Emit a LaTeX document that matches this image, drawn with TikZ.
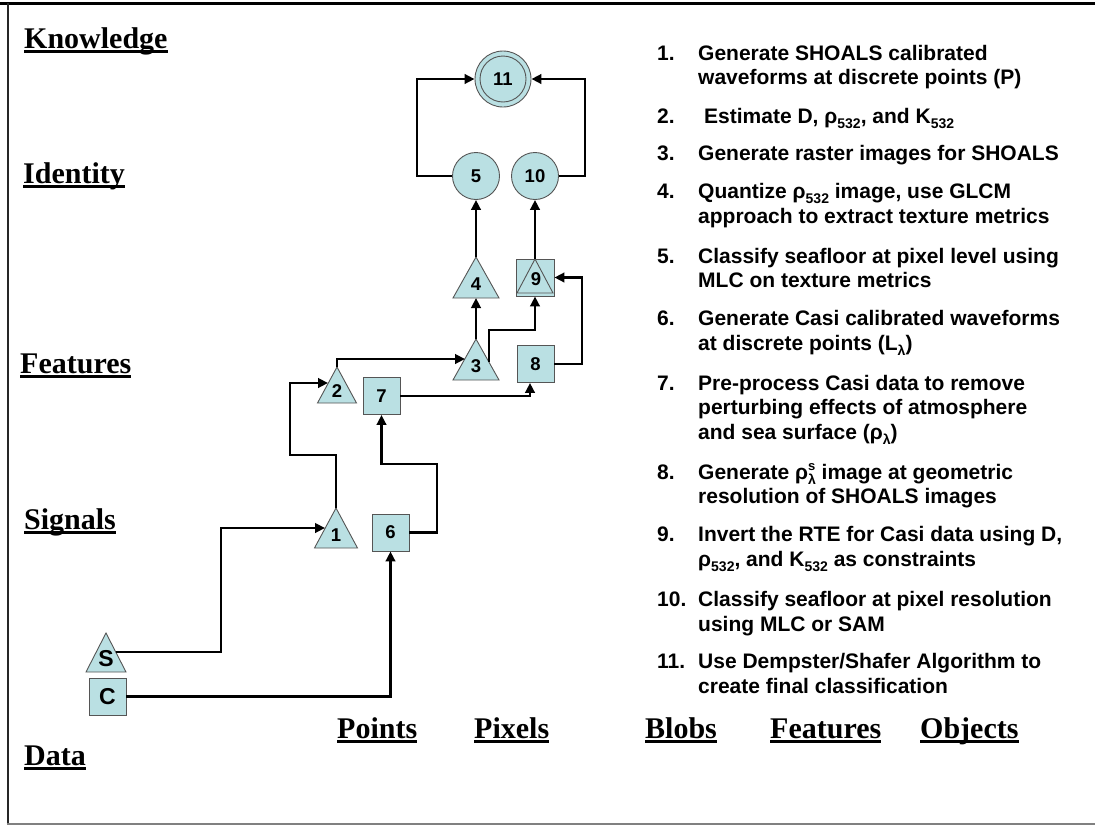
\documentclass[tikz,border=0pt]{standalone}
\usepackage{fontspec}
\setmainfont{Liberation Serif}
\newfontfamily\arialf{Liberation Sans}
\usetikzlibrary{arrows.meta}
\definecolor{nodefill}{RGB}{186,224,227}
\definecolor{nodeline}{RGB}{85,85,85}
\newcommand\dn[1]{\raisebox{-0.28em}{\fontsize{14}{14}\selectfont #1}}
\newcommand\upr[1]{\raisebox{0.42em}{\fontsize{13}{13}\selectfont #1}}
\newcommand\ulab[1]{\setbox0\hbox{#1}\rlap{\raisebox{-5pt}{\rule{\wd0}{2.6pt}}}\box0}
\newcommand\mytri[7][]{%
  \coordinate (#2a) at (#3,#4);
  \coordinate (#2b) at (#3,#5);
  \draw[tri] (#3,#4) -- ({#3+#6},#5) -- ({#3-#6},#5) -- cycle;
  \node[tlab,#1] (#2) at (#3,{(#4+2*#5)/3}) {#7};
}
\begin{document}
\begin{tikzpicture}[x=1pt,y=-1pt,
  lab/.style={anchor=base west,inner sep=0pt,font=\fontsize{30}{30}\selectfont\bfseries},
  item/.style={anchor=base west,inner sep=0pt,font=\arialf\bfseries\fontsize{21}{21}\selectfont},
  tlab/.style={inner sep=0pt,font=\arialf\bfseries\fontsize{18.5}{18.5}\selectfont},
  biglab/.style={font=\arialf\bfseries\fontsize{23}{23}\selectfont},
  sq/.style={draw=nodeline,fill=nodefill,line width=0.9pt,minimum size=37pt,inner sep=0pt,font=\arialf\bfseries\fontsize{18.5}{18.5}\selectfont},
  circ/.style={circle,draw=nodeline,fill=nodefill,line width=0.9pt,minimum size=47pt,inner sep=0pt,font=\arialf\bfseries\fontsize{18.5}{18.5}\selectfont},
  tri/.style={draw=nodeline,fill=nodefill,line width=0.9pt,line join=miter},
  wire/.style={line width=2.6pt,line join=miter},
  conn/.style={wire,-{Triangle[length=10pt,width=9.5pt]}}
]
\useasboundingbox (0,0) rectangle (1095,825);
% frame
\draw[line width=2.6pt] (0,3.5) -- (1095,3.5);
\draw[line width=2pt,black!85] (7.5,3) -- (7.5,824);
\draw[line width=1.6pt,gray] (6.5,823.8) -- (1095,823.8);

% left labels
\node[lab] (lKn) at (24,48) {\ulab{Knowledge}};
\node[lab] (lId) at (23,183) {\ulab{Identity}};
\node[lab] (lFe) at (20,373) {\ulab{Features}};
\node[lab] (lSi) at (24,529) {\ulab{Signals}};
\node[lab] (lDa) at (24,765) {\ulab{Data}};
% bottom labels
\node[lab] (bPo) at (337,738) {\ulab{Points}};
\node[lab] (bPi) at (474,738) {\ulab{Pixels}};
\node[lab] (bBl) at (645,738) {\ulab{Blobs}};
\node[lab] (bFe) at (770,738) {\ulab{Features}};
\node[lab] (bOb) at (920,738) {\ulab{Objects}};

% list
\node[item] (k1) at (657,60) {1.};
\node[item] (t1a) at (698,60) {Generate SHOALS calibrated};
\node[item] (t1b) at (698,84) {waveforms at discrete points (P)};
\node[item] (k2) at (657,123) {2.};
\node[item] (t2a) at (704,123) {Estimate D, ρ\dn{532}, and K\dn{532}};
\node[item] (k3) at (657,160) {3.};
\node[item] (t3a) at (698,160) {Generate raster images for SHOALS};
\node[item] (k4) at (657,198) {4.};
\node[item] (t4a) at (698,198) {Quantize ρ\dn{532} image, use GLCM};
\node[item] (t4b) at (698,223) {approach to extract texture metrics};
\node[item] (k5) at (657,263) {5.};
\node[item] (t5a) at (698,263) {Classify seafloor at pixel level using};
\node[item] (t5b) at (698,287) {MLC on texture metrics};
\node[item] (k6) at (657,325) {6.};
\node[item] (t6a) at (698,325) {Generate Casi calibrated waveforms};
\node[item] (t6b) at (698,350) {at discrete points (L\dn{λ})};
\node[item] (k7) at (657,390) {7.};
\node[item] (t7a) at (698,390) {Pre-process Casi data to remove};
\node[item] (t7b) at (698,414) {perturbing effects of atmosphere};
\node[item] (t7c) at (698,439) {and sea surface (ρ\dn{λ})};
\node[item] (k8) at (657,479) {8.};
\node[item] (t8a) at (698,479) {Generate ρ\rlap{\upr{s}}\dn{λ} image at geometric};
\node[item] (t8b) at (698,503) {resolution of SHOALS images};
\node[item] (k9) at (657,541) {9.};
\node[item] (t9a) at (698,541) {Invert the RTE for Casi data using D,};
\node[item] (t9b) at (698,566) {ρ\dn{532}, and K\dn{532} as constraints};
\node[item] (k10) at (657,606) {10.};
\node[item] (t10a) at (698,606) {Classify seafloor at pixel resolution};
\node[item] (t10b) at (698,631) {using MLC or SAM};
\node[item] (k11) at (657,668) {11.};
\node[item] (t11a) at (698,668) {Use Dempster/Shafer Algorithm to};
\node[item] (t11b) at (698,693) {create final classification};

% nodes
\node[sq,biglab] (nC) at (107.5,696.5) {C};
\node[sq] (n6) at (390.5,532.5) {6};
\node[sq] (n7) at (381.5,396) {7};
\node[sq] (n8) at (535.5,364) {8};
\node[sq,minimum width=38pt] (n9) at (535,277.5) {};
\draw[tri] (535,259) -- (553,293) -- (517,293) -- cycle;
\node[tlab] (n9l) at (536,279) {9};
\mytri[biglab]{nS}{106}{633}{672}{20}{S}
\mytri{n1}{336}{508}{548}{21.5}{1}
\mytri{n2}{337}{367}{403}{19.5}{2}
\mytri{n3}{476}{339}{380}{23}{3}
\mytri{n4}{476}{257}{298}{23}{4}
\node[circ] (n5) at (476,176) {5};
\node[circ] (n10) at (535,176) {10};
\node[circ,minimum size=56pt] (n11) at (503,79) {};
\draw[nodeline,line width=0.9pt] (n11.center) circle[radius=23pt];
\node[tlab] (n11l) at (503,79) {11};

% helper coordinates on triangle sides
\coordinate (pS) at (116,652);
\coordinate (p1in) at (325,528);
\coordinate (p2in) at (328,383);
\coordinate (p3in) at (465,359);
\coordinate (p3out) at (489,362);

% connectors
\draw[conn] (pS) -- (221,652) -- (221,528) -- (p1in);
\draw[conn] (nC.east) -| (n6.south);
\draw[conn] (n1a) -- (336,455) -- (290,455) -- (290,383) -- (p2in);
\draw[conn] (n6.east) -| (437,464) -| (n7.south);
\draw[conn] (n2a) |- (p3in);
\draw[conn] (n7.east) -| ([xshift=-5.5pt]n8.south);
\draw[conn] (n3a) -- (n4b);
\draw[conn] (p3out) -- (489,330) -| (n9.south);
\draw[conn] (n8.east) -| (582,277.5) -- (n9.east);
\draw[conn] (n4a) -- (n5.south);
\draw[conn] (n9.north) -- (n10.south);
\draw[conn] (n5.west) -| (417,79) -- (n11.west);
\draw[conn] (n10.east) -| (585,79) -- (n11.east);
\end{tikzpicture}
\end{document}
